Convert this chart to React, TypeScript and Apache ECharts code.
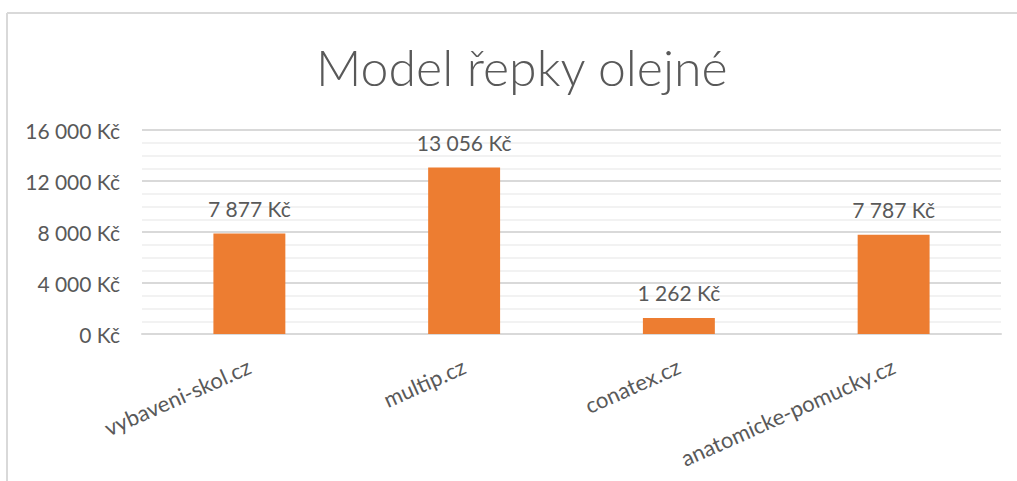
import React, { useEffect, useRef } from "react";
import * as echarts from "echarts";

const title = "Model řepky olejné";
const categories = ["vybaveni-skol.cz", "multip.cz", "conatex.cz", "anatomicke-pomucky.cz"];
const prices = [7877, 13056, 1262, 7787];
const yMin = 0;
const yMax = 16000;
const yInterval = 4000;

const fmt = (v: number) => {
  const s = Math.round(v).toString().replace(/\B(?=(\d{3})+(?!\d))/g, " ");
  return s + " Kč";
};

export default function App() {
  const ref = useRef<HTMLDivElement>(null);
  useEffect(() => {
    if (!ref.current) return;
    const chart = echarts.init(ref.current, undefined, { renderer: "svg" });
    const font = "Lato, 'Open Sans', sans-serif";
    chart.setOption({
      animation: false,
      backgroundColor: "#ffffff",
      textStyle: { fontFamily: font },
      title: {
        text: title,
        left: 311,
        top: 37,
        textStyle: { fontFamily: font, fontSize: 50, fontWeight: 300, color: "#595959" },
      },
      graphic: [
        { type: "line", shape: { x1: 7, y1: 13, x2: 1017, y2: 13 }, style: { stroke: "#d9d9d9", lineWidth: 2 } },
        { type: "line", shape: { x1: 7, y1: 13, x2: 7, y2: 481 }, style: { stroke: "#d9d9d9", lineWidth: 2 } },
      ],
      grid: { left: 142, right: 16, top: 130, bottom: 147, containLabel: false },
      xAxis: {
        type: "category",
        data: categories,
        axisLine: { show: true, lineStyle: { color: "#d9d9d9", width: 2 } },
        axisTick: { show: false },
        axisLabel: { rotate: 24, margin: 31, fontSize: 22, color: "#595959", fontFamily: font, interval: 0 },
      },
      yAxis: {
        type: "value",
        min: yMin,
        max: yMax,
        interval: yInterval,
        axisLine: { show: false },
        axisTick: { show: false },
        axisLabel: { fontSize: 21, color: "#595959", fontFamily: font, margin: 22, formatter: (v: number) => fmt(v) },
        splitLine: { show: true, lineStyle: { color: "#d9d9d9", width: 2 } },
        minorTick: { show: false, splitNumber: 4 },
        minorSplitLine: { show: true, lineStyle: { color: "#f2f2f2", width: 2 } },
      },
      series: [
        {
          type: "bar",
          data: prices,
          barWidth: "33.5%",
          itemStyle: { color: "#ed7d31" },
          label: {
            show: true,
            position: "top",
            distance: 15,
            fontSize: 21,
            color: "#595959",
            fontFamily: font,
            formatter: (p: any) => fmt(p.value),
          },
        },
      ],
    });
    return () => chart.dispose();
  }, []);
  return <div ref={ref} style={{ position: "fixed", left: 0, top: 0, width: 1017, height: 481 }} />;
}
